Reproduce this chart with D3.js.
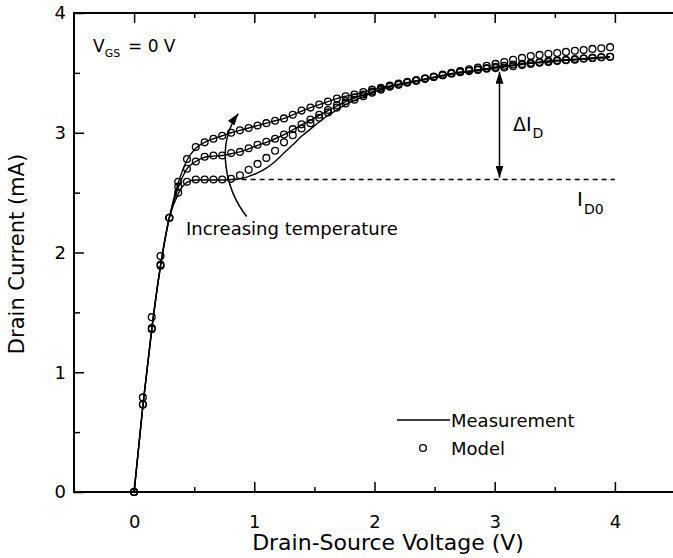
<!DOCTYPE html>
<html>
<head>
<meta charset="utf-8">
<script src="https://cdn.jsdelivr.net/npm/d3@7"></script>
<style>
body{margin:0;background:#fff;}
text{font-family:"DejaVu Sans",sans-serif;fill:#000;}
</style>
</head>
<body>
<script>
// drain-source voltage grid (V)
var vds=[0,0.073,0.147,0.22,0.293,0.367,0.44,0.513,0.587,0.66,0.733,0.807,0.88,0.953,1.027,1.1,1.173,1.247,1.32,1.393,1.467,1.54,1.613,1.687,1.76,1.833,1.907,1.98,2.053,2.127,2.2,2.273,2.347,2.42,2.493,2.567,2.64,2.713,2.787,2.86,2.933,3.007,3.08,3.153,3.227,3.3,3.373,3.447,3.52,3.593,3.667,3.74,3.813,3.887,3.96];

// model drain current (mA), low / mid / high temperature
var modelLow=[0,0.73,1.36,1.89,2.29,2.50,2.59,2.61,2.61,2.61,2.61,2.615,2.645,2.69,2.74,2.79,2.85,2.92,2.98,3.035,3.08,3.125,3.17,3.21,3.245,3.275,3.305,3.335,3.36,3.385,3.40,3.42,3.435,3.45,3.465,3.48,3.495,3.515,3.53,3.545,3.56,3.575,3.59,3.61,3.625,3.64,3.65,3.66,3.665,3.675,3.685,3.69,3.70,3.705,3.715];
var modelMid=[0,0.73,1.37,1.90,2.29,2.55,2.70,2.76,2.80,2.81,2.81,2.83,2.84,2.87,2.90,2.925,2.95,2.985,3.03,3.07,3.11,3.15,3.19,3.23,3.265,3.295,3.32,3.345,3.37,3.39,3.405,3.42,3.435,3.45,3.465,3.48,3.495,3.505,3.515,3.525,3.535,3.54,3.545,3.555,3.565,3.575,3.585,3.59,3.60,3.605,3.61,3.62,3.625,3.63,3.635];
var modelHigh=[0,0.79,1.46,1.97,2.29,2.59,2.78,2.88,2.92,2.95,2.975,3.00,3.02,3.04,3.06,3.08,3.10,3.12,3.15,3.185,3.21,3.235,3.26,3.285,3.305,3.32,3.34,3.36,3.375,3.395,3.41,3.425,3.44,3.455,3.47,3.485,3.50,3.51,3.52,3.53,3.54,3.55,3.56,3.57,3.575,3.585,3.59,3.60,3.605,3.61,3.615,3.62,3.625,3.63,3.635];

// measured drain current (mA)
var measLow=[0,0.72,1.36,1.89,2.29,2.49,2.585,2.605,2.605,2.605,2.605,2.61,2.615,2.635,2.665,2.705,2.76,2.83,2.90,2.97,3.03,3.09,3.145,3.19,3.235,3.27,3.30,3.335,3.36,3.38,3.40,3.415,3.43,3.445,3.46,3.475,3.49,3.505,3.515,3.525,3.535,3.545,3.555,3.565,3.575,3.585,3.59,3.60,3.605,3.61,3.615,3.62,3.625,3.63,3.635];
var measMid=[0,0.72,1.36,1.89,2.29,2.54,2.70,2.76,2.795,2.805,2.81,2.825,2.84,2.865,2.895,2.92,2.95,2.985,3.025,3.065,3.105,3.145,3.185,3.225,3.26,3.29,3.315,3.34,3.365,3.385,3.40,3.415,3.43,3.445,3.46,3.475,3.49,3.50,3.51,3.52,3.53,3.54,3.55,3.56,3.57,3.58,3.585,3.59,3.60,3.605,3.61,3.615,3.62,3.625,3.63];
var measHigh=[0,0.72,1.36,1.89,2.29,2.58,2.77,2.87,2.92,2.95,2.975,3.00,3.02,3.04,3.06,3.08,3.10,3.12,3.15,3.18,3.21,3.235,3.26,3.285,3.305,3.32,3.34,3.36,3.375,3.39,3.405,3.42,3.435,3.45,3.465,3.48,3.495,3.505,3.515,3.525,3.535,3.545,3.555,3.565,3.575,3.58,3.59,3.595,3.60,3.605,3.61,3.615,3.62,3.625,3.63];

var xTicks=[0,1,2,3,4];
var yTicks=[0,1,2,3,4];
var xMinor=[0.5,1.5,2.5,3.5];
var yMinor=[0.5,1.5,2.5,3.5];
var id0=2.61;            // saturation current reference
var deltaAt=3.04;        // where the Delta I_D arrow sits
var deltaTop=3.51;

var W=673,H=558;
var x=d3.scaleLinear().domain([-0.5,4.5]).range([74,675]);
var y=d3.scaleLinear().domain([0,4]).range([492,13]);

var svg=d3.select('body').append('svg')
    .attr('width',W)
    .attr('height',H);

var defs=svg.append('defs');
defs.append('marker').attr('id','head')
    .attr('viewBox','0 0 12 8').attr('refX',12).attr('refY',4)
    .attr('markerWidth',12).attr('markerHeight',8)
    .attr('markerUnits','userSpaceOnUse')
    .attr('orient','auto-start-reverse')
  .append('path').attr('d','M0,0 L12,4 L0,8 Z').attr('fill','#000');

// axes, ticks pointing inward
function styleAxis(g){
  g.select('.domain').remove();
  g.selectAll('.tick line').attr('stroke','#000').attr('stroke-width',1.5);
  g.selectAll('.tick text').style('font-size','18px').attr('fill','#000');
}
svg.append('g').attr('transform','translate(0,'+y(0)+')')
   .call(d3.axisBottom(x).tickValues(xTicks).tickSize(-10).tickPadding(23).tickFormat(d3.format('d')))
   .call(styleAxis);
svg.append('g').attr('transform','translate(0,'+y(0)+')')
   .call(d3.axisBottom(x).tickValues(xMinor).tickSize(-5).tickFormat(''))
   .call(styleAxis);
svg.append('g').attr('transform','translate(0,'+y(4)+')')
   .call(d3.axisTop(x).tickValues(xTicks).tickSize(-10).tickFormat(''))
   .call(styleAxis);
svg.append('g').attr('transform','translate(0,'+y(4)+')')
   .call(d3.axisTop(x).tickValues(xMinor).tickSize(-5).tickFormat(''))
   .call(styleAxis);
svg.append('g').attr('transform','translate('+x(-0.5)+',0)')
   .call(d3.axisLeft(y).tickValues(yTicks).tickSize(-10).tickPadding(8).tickFormat(d3.format('d')))
   .call(styleAxis);
svg.append('g').attr('transform','translate('+x(-0.5)+',0)')
   .call(d3.axisLeft(y).tickValues(yMinor).tickSize(-6).tickFormat(''))
   .call(styleAxis);

// frame
svg.append('rect')
   .attr('x',x(-0.5)).attr('y',y(4))
   .attr('width',x(4.5)-x(-0.5)).attr('height',y(0)-y(4))
   .attr('fill','none').attr('stroke','#000').attr('stroke-width',2);

// I_D0 dashed reference
svg.append('line')
   .attr('x1',x(0.82)).attr('x2',x(4.0))
   .attr('y1',y(id0)).attr('y2',y(id0))
   .attr('stroke','#000').attr('stroke-width',1.5)
   .attr('stroke-dasharray','5,4');

// measurement lines
var line=d3.line()
   .x(function(d){return x(d[0])})
   .y(function(d){return y(d[1])})
   .curve(d3.curveMonotoneX);

[measLow,measMid,measHigh].forEach(function(s){
  svg.append('path').attr('d',line(d3.zip(vds,s)))
     .attr('fill','none').attr('stroke','#000').attr('stroke-width',1.4);
});

// model points
[modelLow,modelMid,modelHigh].forEach(function(s){
  svg.append('g').selectAll('circle')
     .data(d3.zip(vds,s)).enter().append('circle')
     .attr('cx',function(d){return x(d[0])})
     .attr('cy',function(d){return y(d[1])})
     .attr('r',3.4)
     .attr('fill','none').attr('stroke','#000').attr('stroke-width',1.3);
});

// increasing temperature arrow
var p=d3.path();
p.moveTo(x(0.937),y(2.30));
p.bezierCurveTo(x(0.765),y(2.52),x(0.674),y(2.90),x(0.867),y(3.16));
svg.append('path').attr('d',p.toString())
   .attr('fill','none').attr('stroke','#000').attr('stroke-width',1.5)
   .attr('marker-end','url(#head)');
svg.append('text').attr('x',186).attr('y',235)
   .style('font-size','18px').text('Increasing temperature');

// Delta I_D arrow
svg.append('line')
   .attr('x1',x(deltaAt)).attr('x2',x(deltaAt))
   .attr('y1',y(deltaTop)).attr('y2',y(id0+0.015))
   .attr('stroke','#000').attr('stroke-width',1.5)
   .attr('marker-start','url(#head)').attr('marker-end','url(#head)');
var dl=svg.append('text').attr('x',513).attr('y',131).style('font-size','19px');
dl.append('tspan').text('\u0394I');
dl.append('tspan').attr('dx',1).attr('dy',7).style('font-size','14px').text('D');

var i0=svg.append('text').attr('x',577).attr('y',206).style('font-size','20px');
i0.append('tspan').text('I');
i0.append('tspan').attr('dx',1).attr('dy',8).style('font-size','14px').text('D0');

// V_GS label
var vg=svg.append('text').attr('x',93).attr('y',52).style('font-size','17px');
vg.append('tspan').text('V');
vg.append('tspan').attr('dy',5).style('font-size','11px').text('GS');
vg.append('tspan').attr('x',128).attr('dy',-5).text('= 0 V');

// legend
svg.append('line').attr('x1',397).attr('x2',450).attr('y1',420).attr('y2',420)
   .attr('stroke','#000').attr('stroke-width',1.4);
svg.append('text').attr('x',451).attr('y',427).style('font-size','18px').text('Measurement');
svg.append('circle').attr('cx',423).attr('cy',448).attr('r',3.4)
   .attr('fill','none').attr('stroke','#000').attr('stroke-width',1.3);
svg.append('text').attr('x',451).attr('y',455).style('font-size','18px').text('Model');

// axis titles
svg.append('text').attr('x',388).attr('y',550).attr('text-anchor','middle')
   .style('font-size','22px').text('Drain-Source Voltage (V)');
svg.append('text').attr('transform','translate(24,254) rotate(-90)')
   .attr('text-anchor','middle')
   .style('font-size','21px').text('Drain Current (mA)');
</script>
</body>
</html>
